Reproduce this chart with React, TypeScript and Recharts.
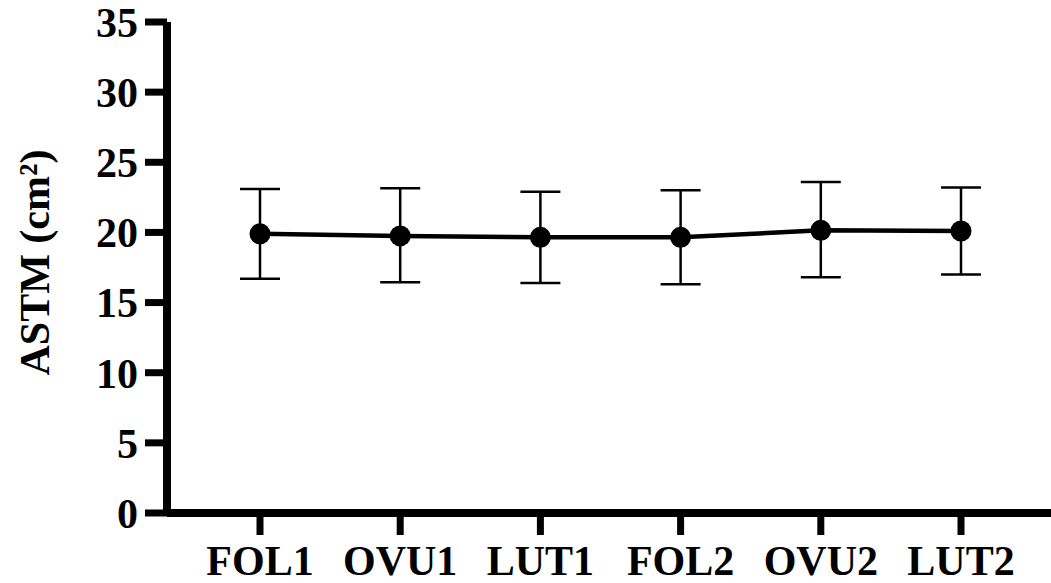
import React from 'react';
import { LineChart, Line, XAxis, YAxis, ErrorBar } from 'recharts';

const categories = ['FOL1', 'OVU1', 'LUT1', 'FOL2', 'OVU2', 'LUT2'];
const means = [19.9, 19.75, 19.65, 19.65, 20.15, 20.1];
const upperEnds = [23.1, 23.15, 22.9, 23.0, 23.6, 23.2];
const lowerEnds = [16.7, 16.45, 16.4, 16.3, 16.8, 17.0];
const yTicks = [0, 5, 10, 15, 20, 25, 30, 35];

const data = categories.map((c, i) => ({
  phase: c,
  astm: means[i],
  err: [means[i] - lowerEnds[i], upperEnds[i] - means[i]],
}));

const font = '"Liberation Serif", "Times New Roman", serif';

const YLabel = (props: any) => {
  const vb = props.viewBox || {};
  const cx = 35;
  const cy = (vb.y ?? 22) + (vb.height ?? 491) / 2 - 5;
  return (
    <text
      x={cx}
      y={cy}
      transform={`rotate(-90, ${cx}, ${cy})`}
      textAnchor="middle"
      dominantBaseline="central"
      fontFamily={font}
      fontWeight="bold"
      fontSize={42}
      fill="#000"
    >
      ASTM (cm²)
    </text>
  );
};

export default function App() {
  return (
    <div style={{ position: 'absolute', left: 0, top: 0, background: '#fff' }}>
      <LineChart
        width={1051}
        height={583}
        data={data}
        margin={{ top: 22, right: 0, bottom: 0, left: 0 }}
      >
        <XAxis
          dataKey="phase"
          type="category"
          padding={{ left: 93, right: 90 }}
          height={70}
          tickSize={22}
          tickMargin={10}
          axisLine={{ stroke: '#000', strokeWidth: 8 }}
          tickLine={{ stroke: '#000', strokeWidth: 7 }}
          tick={{ fill: '#000', fontFamily: font, fontWeight: 'bold', fontSize: 42 }}
        />
        <YAxis
          type="number"
          domain={[0, 35]}
          ticks={yTicks}
          interval={0}
          width={167}
          tickSize={22}
          tickMargin={7}
          axisLine={{ stroke: '#000', strokeWidth: 8 }}
          tickLine={{ stroke: '#000', strokeWidth: 7 }}
          tick={{ fill: '#000', fontFamily: font, fontWeight: 'bold', fontSize: 42 }}
          label={<YLabel />}
        />
        <Line
          dataKey="astm"
          stroke="#000"
          strokeWidth={4.5}
          dot={{ r: 10.5, fill: '#000', stroke: '#000', strokeWidth: 0 }}
          activeDot={false}
          isAnimationActive={false}
        >
          <ErrorBar dataKey="err" width={20} stroke="#000" strokeWidth={2.5} direction="y" />
        </Line>
      </LineChart>
    </div>
  );
}
